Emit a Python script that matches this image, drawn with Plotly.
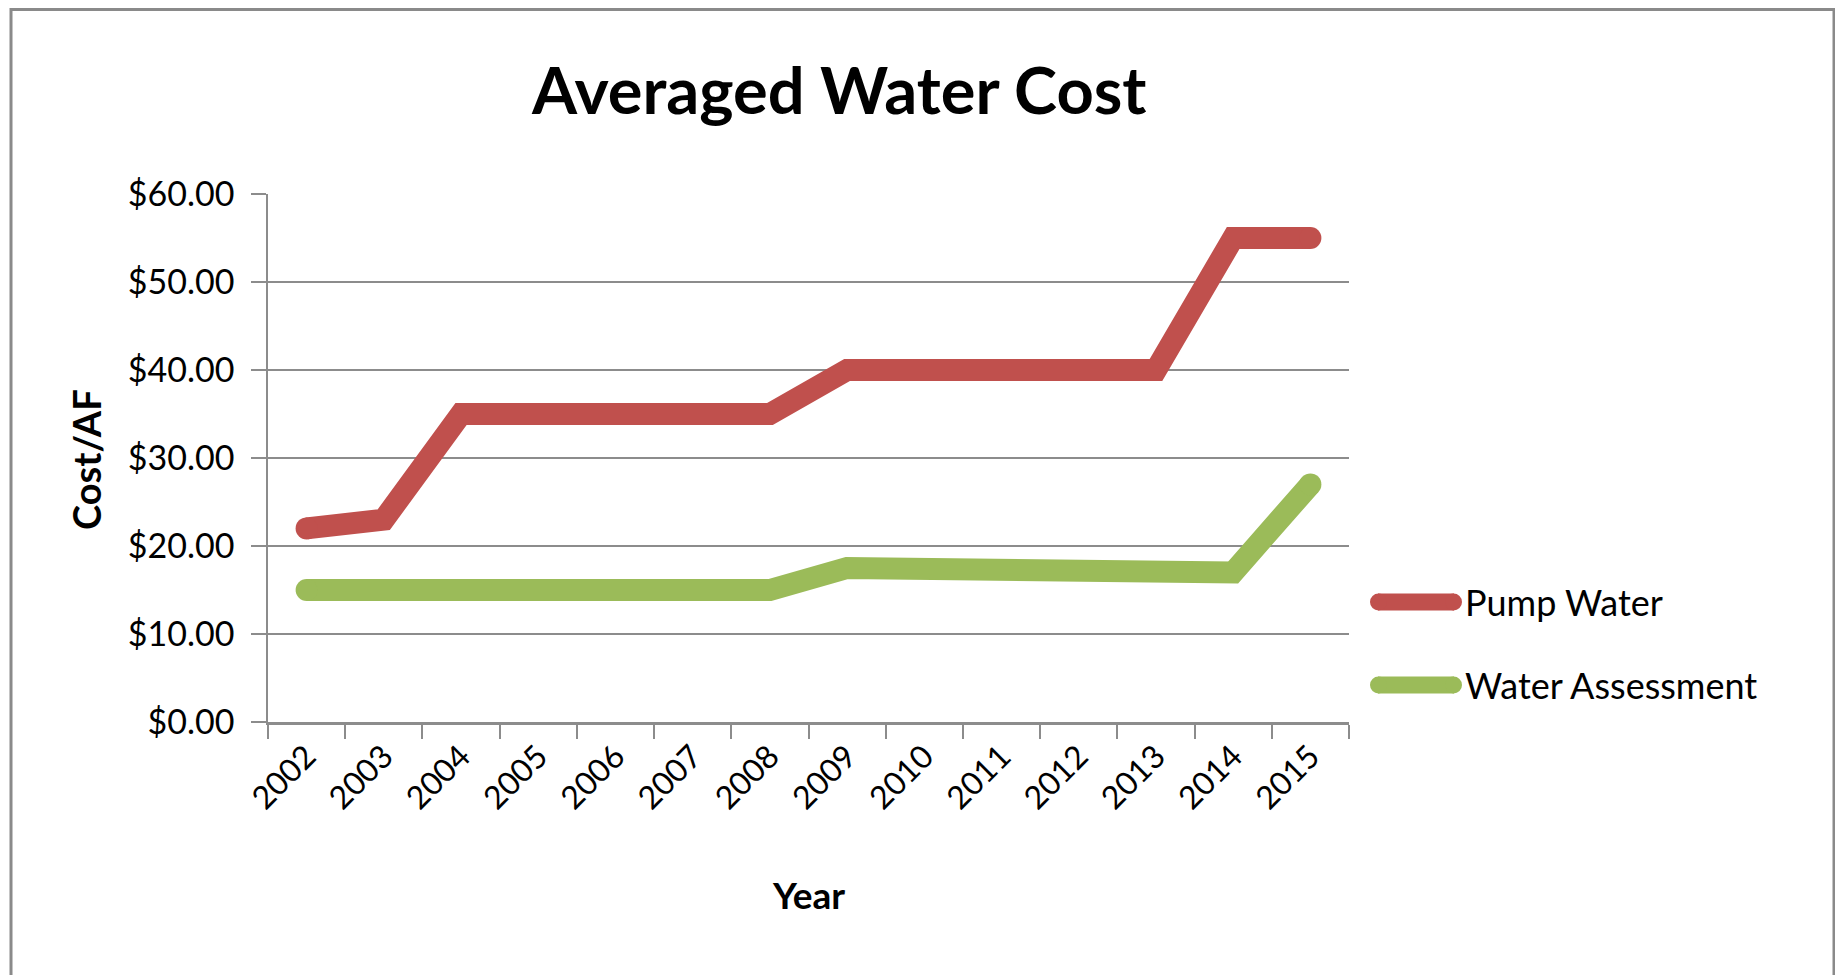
import plotly.graph_objects as go

years = ["2002", "2003", "2004", "2005", "2006", "2007", "2008",
         "2009", "2010", "2011", "2012", "2013", "2014", "2015"]
pump_water = [22, 23, 35, 35, 35, 35, 35, 40, 40, 40, 40, 40, 55, 55]
water_assessment = [15, 15, 15, 15, 15, 15, 15, 17.5, 17.5, 17, 17, 17, 17, 27]
series_names = ["Pump Water", "Water Assessment"]
series_colors = ["#C0504D", "#9BBB59"]

OFF = 8  # browser body margin
W, H = 1843 - OFF, 975 - OFF
L, R, T, B = 268, 1349, 194, 722  # plot area in screen pixels


def px(x):
    return (x - L) / (R - L)


def py(y):
    return (B - y) / (B - T)


FONT = "Lato"
LW = 22

fig = go.Figure()
for name, vals, col in zip(series_names, [pump_water, water_assessment], series_colors):
    sizes = [0] * len(vals)
    sizes[0] = LW
    sizes[-1] = LW
    fig.add_trace(go.Scatter(
        x=years, y=vals, name=name, mode="lines+markers",
        line=dict(color=col, width=LW),
        marker=dict(color=col, size=sizes, opacity=1, line=dict(width=0)),
        showlegend=False,
    ))

shapes = [
    dict(type="rect", xref="paper", yref="paper",
         x0=px(11), x1=px(1834), y0=py(9.5), y1=py(1000),
         line=dict(color="#8a8a8a", width=3), fillcolor="rgba(0,0,0,0)", layer="below"),
]
annotations = [
    dict(text="<b>Averaged Water Cost</b>", xref="paper", yref="paper",
         x=px(838), y=py(89), xanchor="center", yanchor="middle",
         showarrow=False, font=dict(family=FONT, size=65, color="#000")),
    dict(text="<b>Cost/AF</b>", xref="paper", yref="paper",
         x=px(86), y=py(460), xanchor="center", yanchor="middle", textangle=-90,
         showarrow=False, font=dict(family=FONT, size=38, color="#000")),
    dict(text="<b>Year</b>", xref="paper", yref="paper",
         x=px(808), y=py(894), xanchor="center", yanchor="middle",
         showarrow=False, font=dict(family=FONT, size=37, color="#000")),
]
legend_y = [602, 685]
for name, col, ly in zip(series_names, series_colors, legend_y):
    shapes.append(dict(type="line", xref="paper", yref="paper",
                       x0=px(1378), x1=px(1454), y0=py(ly), y1=py(ly),
                       line=dict(color=col, width=17)))
    shapes.append(dict(type="circle", xref="paper", yref="paper",
                       x0=px(1370), x1=px(1387), y0=py(ly + 8.5), y1=py(ly - 8.5),
                       fillcolor=col, line=dict(width=0)))
    shapes.append(dict(type="circle", xref="paper", yref="paper",
                       x0=px(1445), x1=px(1462), y0=py(ly + 8.5), y1=py(ly - 8.5),
                       fillcolor=col, line=dict(width=0)))
    annotations.append(dict(text=name, xref="paper", yref="paper",
                            x=px(1463), y=py(ly), xanchor="left", yanchor="middle",
                            showarrow=False, font=dict(family=FONT, size=36, color="#000")))

fig.update_layout(
    width=W, height=H,
    margin=dict(l=L - OFF, r=W - (R - OFF), t=T - OFF, b=H - (B - OFF), pad=0),
    paper_bgcolor="white", plot_bgcolor="white",
    showlegend=False,
    shapes=shapes, annotations=annotations,
    xaxis=dict(
        type="category", range=[-0.5, 13.5], tickson="boundaries",
        showline=True, linecolor="#8c8c8c", linewidth=3,
        ticks="outside", ticklen=14, tickwidth=1.5, tickcolor="#8c8c8c",
        tickangle=-45, tickfont=dict(family=FONT, size=32, color="#000"),
        showgrid=False, zeroline=False,
    ),
    yaxis=dict(
        range=[0, 60], dtick=10, tickprefix="$", tickformat=".2f",
        showline=True, linecolor="#8c8c8c", linewidth=1.5,
        ticks="outside", ticklen=15, tickwidth=1.5, tickcolor="#8c8c8c",
        tickfont=dict(family=FONT, size=34, color="#000"),
        showgrid=True, gridcolor="#8c8c8c", gridwidth=1.5, zeroline=False,
        ticklabelstandoff=10,
    ),
)

fig.write_html("out.html")
